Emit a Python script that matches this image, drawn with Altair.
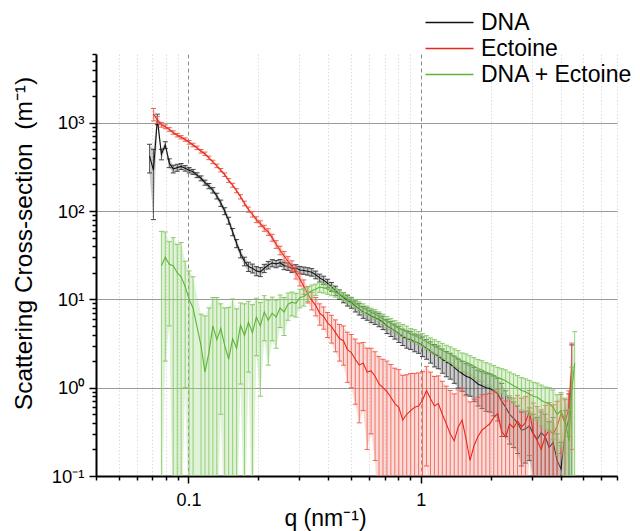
import altair as alt
import pandas as pd

# scattering vector q (nm^-1)
q = [0.068, 0.0707, 0.0735, 0.0765, 0.0795, 0.0827, 0.086, 0.0895, 0.093, 0.0968,
     0.1007, 0.1047, 0.1089, 0.1133, 0.1178, 0.1225, 0.1274, 0.1325, 0.1378, 0.1433,
     0.149, 0.155, 0.1612, 0.1676, 0.1743, 0.1813, 0.1886, 0.1961, 0.204, 0.2121,
     0.2206, 0.2294, 0.2386, 0.2481, 0.2581, 0.2684, 0.2791, 0.2903, 0.3019, 0.314,
     0.3266, 0.3396, 0.3532, 0.3673, 0.382, 0.3973, 0.4132, 0.4297, 0.4469, 0.4648,
     0.4834, 0.5027, 0.5228, 0.5437, 0.5655, 0.5881, 0.6116, 0.6361, 0.6615, 0.688,
     0.7155, 0.7441, 0.7739, 0.8049, 0.8371, 0.8705, 0.9054, 0.9416, 0.9792, 1.018,
     1.059, 1.102, 1.146, 1.191, 1.239, 1.289, 1.34, 1.394, 1.45, 1.508,
     1.568, 1.631, 1.696, 1.764, 1.834, 1.908, 1.984, 2.063, 2.146, 2.232,
     2.321, 2.414, 2.51, 2.611, 2.715, 2.824, 2.937, 3.054, 3.176, 3.303,
     3.435, 3.573, 3.716, 3.864, 4.019, 4.18, 4.347, 4.47, 4.6]

dna = [420, 290, 1100, 440, 560, 350, 300, 310, 320, 305,
       290, 278, 255, 235, 210, 192, 172, 148, 123, 100,
       78, 58, 43, 33, 27, 23.5, 22.5, 21, 20.5, 22.5,
       24.5, 25.8, 25.2, 26, 24, 23.5, 22.3, 22.6, 21.5, 21.2,
       20.8, 20.3, 19, 17.5, 16.5, 15.2, 13.9, 12.6, 11.4, 10.5,
       9.7, 9.2, 8.4, 7.8, 7.2, 6.9, 6.5, 6.2, 5.9, 5.5,
       5.0, 4.7, 4.4, 4.1, 3.8, 3.6, 3.5, 3.3, 3.2, 3.0,
       2.8, 2.6, 2.4, 2.3, 2.1, 1.95, 1.85, 1.7, 1.55, 1.45,
       1.35, 1.3, 1.2, 1.1, 1.05, 1.0, 0.98, 0.92, 0.85, 0.7,
       0.6, 0.5, 0.45, 0.4, 0.33, 0.34, 0.37, 0.3, 0.26, 0.31,
       0.28, 0.21, 0.24, 0.15, 0.12, 0.3, 0.45, 1.55, None]
dna_err = [150, 210, 150, 60, 50, 40, 30, 28, 25, 22,
           20, 18, 16, 15, 14, 13, 12, 11, 10, 9,
           7, 5.5, 4.5, 3.5, 3, 2.8, 2.6, 2.5, 2.4, 2.4,
           2.4, 2.4, 2.4, 2.3, 2.3, 2.2, 2.2, 2.1, 2.1, 2.0,
           2.0, 2.0, 1.9, 1.8, 1.8, 1.7, 1.6, 1.5, 1.4, 1.35,
           1.3, 1.25, 1.2, 1.15, 1.1, 1.1, 1.05, 1.0, 1.0, 0.95,
           0.9, 0.9, 0.85, 0.85, 0.8, 0.8, 0.8, 0.75, 0.75, 0.75,
           0.7, 0.7, 0.68, 0.66, 0.64, 0.62, 0.6, 0.58, 0.56, 0.54,
           0.52, 0.5, 0.5, 0.48, 0.47, 0.46, 0.45, 0.44, 0.43, 0.42,
           0.32, 0.27, 0.24, 0.22, 0.2, 0.2, 0.22, 0.2, 0.2, 0.22,
           0.22, 0.2, 0.22, 0.15, 0.12, 0.25, 0.4, 1.5, None]

ectoine = [None, 1250, 1080, 950, 900, 840, 775, 722, 685, 645,
           600, 560, 520, 475, 445, 400, 360, 325, 290, 258,
           222, 196, 170, 145, 122, 104, 92, 80, 72, 64,
           58, 50, 42, 36, 31, 27, 24, 20, 17, 14,
           11.5, 9.8, 8.5, 7.0, 6.4, 5.4, 4.9, 4.2, 3.6, 3.4,
           2.7, 2.5, 2.1, 1.8, 1.9, 1.5, 1.55, 1.35, 1.1, 1.0,
           0.9, 0.78, 0.66, 0.6, 0.43, 0.5, 0.55, 0.6, 0.62, 0.72,
           0.93, 0.75, 0.62, 0.66, 0.5, 0.39, 0.3, 0.25, 0.36, 0.43,
           0.26, 0.15, 0.22, 0.28, 0.33, 0.36, 0.39, 0.46, 0.51, 0.32,
           0.275, 0.39, 0.35, 0.42, 0.36, 0.4, 0.55, 0.3, 0.25, 0.2,
           0.28, 0.33, 0.3, 0.36, 0.51, 0.4, 0.6, 1.7, None]
ectoine_err = [None, 200, 100, 60, 45, 40, 35, 32, 30, 28,
               28, 26, 24, 22, 20, 18, 16, 15, 13, 12,
               11, 10, 9, 8, 7.5, 7, 6.5, 6, 5.5, 5,
               5, 4.5, 4.2, 4, 3.8, 3.5, 3.3, 3, 2.8, 2.6,
               2.4, 2.2, 2.0, 1.9, 1.8, 1.7, 1.7, 1.65, 1.6, 1.6,
               1.55, 1.5, 1.45, 1.4, 1.35, 1.3, 1.25, 1.2, 1.15, 1.1,
               1.1, 1.05, 1.0, 1.0, 0.95, 0.9, 0.9, 0.85, 0.85, 0.8,
               0.8, 0.75, 0.72, 0.7, 0.68, 0.65, 0.63, 0.6, 0.58, 0.56,
               0.55, 0.54, 0.52, 0.5, 0.5, 0.48, 0.47, 0.46, 0.45, 0.44,
               0.43, 0.42, 0.41, 0.4, 0.4, 0.39, 0.38, 0.37, 0.36, 0.36,
               0.35, 0.35, 0.34, 0.34, 0.33, 0.33, 0.32, 1.5, None]

mix = [None, None, None, 24, 30, 25, 24, 20, 18, 14,
       10, 8, None, 3, 1.5, 2.5, 5, 3.5, 4.7, 3.0,
       2.1, 3.6, 2.8, 5.1, 3.9, 5.5, 4.2, 6.3, 5.0, 7.2,
       5.8, 7.0, 6.3, 8.0, 7.2, 8.8, 9.3, 9.0, 10.5, 10.8,
       11.7, 12.5, 13.0, 13.8, 13.5, 13.0, 12.5, 12.0, 11.5, 10.8,
       10.2, 9.6, 9.0, 8.4, 8.0, 7.5, 7.1, 6.8, 6.4, 6.0,
       5.6, 5.3, 5.0, 4.7, 4.5, 4.3, 4.0, 3.9, 3.7, 3.5,
       3.3, 3.1, 2.95, 2.8, 2.65, 2.5, 2.4, 2.25, 2.15, 2.0,
       1.95, 1.85, 1.75, 1.65, 1.6, 1.5, 1.45, 1.38, 1.3, 1.25,
       1.2, 1.12, 1.05, 1.0, 0.93, 0.9, 0.85, 0.8, 0.78, 0.72,
       0.68, 0.66, 0.6, 0.5, 0.55, 0.43, 0.25, 0.9, 1.9]
mix_err = [None, None, None, 35, 28, 20, 26, 22, 26, 13,
           11, 10, None, 3.8, 5, 5.5, 5.5, 7, 4.2, 5,
           6, 6.5, 5, 4, 5, 4, 4.5, 4, 4.2, 3.8,
           4, 3.6, 3.5, 3.2, 3.3, 3, 2.8, 2.7, 2.5, 2.4,
           2.2, 2, 1.9, 1.8, 1.7, 1.6, 1.5, 1.4, 1.3, 1.2,
           1.1, 1.0, 1.0, 0.95, 0.9, 0.9, 0.85, 0.85, 0.8, 0.8,
           0.78, 0.76, 0.74, 0.72, 0.7, 0.68, 0.66, 0.64, 0.62, 0.6,
           0.58, 0.56, 0.55, 0.54, 0.53, 0.52, 0.5, 0.5, 0.48, 0.47,
           0.46, 0.45, 0.44, 0.43, 0.42, 0.42, 0.41, 0.4, 0.4, 0.39,
           0.39, 0.38, 0.38, 0.37, 0.37, 0.36, 0.36, 0.35, 0.35, 0.35,
           0.34, 0.34, 0.34, 0.33, 0.33, 0.33, 0.32, 0.8, 2.4]

series_names = ["DNA", "Ectoine", "DNA + Ectoine"]
series_vals = [dna, ectoine, mix]
series_errs = [dna_err, ectoine_err, mix_err]
line_colors = ["#111111", "#e8281e", "#5cb536"]
bar_colors = ["#333333", "#ee5245", "#7cc45a"]
band_colors = ["#6e6e6e", "#f3978c", "#a5d98b"]

x_ticks = [0.04, 0.05, 0.06, 0.07, 0.08, 0.09, 0.1, 0.2, 0.3, 0.4, 0.5, 0.6, 0.7,
           0.8, 0.9, 1, 2, 3, 4, 5, 6, 7]
y_ticks = [0.1, 0.2, 0.3, 0.4, 0.5, 0.6, 0.7, 0.8, 0.9,
           1, 2, 3, 4, 5, 6, 7, 8, 9,
           10, 20, 30, 40, 50, 60, 70, 80, 90,
           100, 200, 300, 400, 500, 600, 700, 800, 900,
           1000, 2000, 3000, 4000, 5000, 6000]

major_x = "datum.value == 0.1 || datum.value == 1"
major_y = ("datum.value == 0.1 || datum.value == 1 || datum.value == 10 || "
           "datum.value == 100 || datum.value == 1000")

x_axis = alt.Axis(
    values=x_ticks,
    labelExpr="datum.value == 0.1 ? '0.1' : (datum.value == 1 ? '1' : '')",
    title="q (nm\u207b\u00b9)",
    titleFontSize=23, titleFontWeight="normal", titleColor="black",
    titleX=229, titleY=49, titleBaseline="alphabetic",
    labelFontSize=18, labelColor="black", labelPadding=8, labelFlush=False,
    labelOverlap=False,
    domainColor="black", domainWidth=2,
    tickColor="black", tickWidth=1.5,
    tickSize={"condition": {"test": major_x, "value": 7}, "value": 4},
    grid=True,
    gridColor={"condition": {"test": major_x, "value": "#8a8a8a"}, "value": "#dcdcdc"},
    gridDash={"condition": {"test": major_x, "value": [4, 3]}, "value": [1.5, 2]},
    gridWidth=1,
)

y_axis = alt.Axis(
    values=y_ticks,
    labelExpr=("datum.value == 1000 ? '10\u00b3' : datum.value == 100 ? '10\u00b2' : "
               "datum.value == 10 ? '10\u00b9' : datum.value == 1 ? '10\u2070' : "
               "datum.value == 0.1 ? '10\u207b\u00b9' : ''"),
    title="Scattering Cross-section\u00a0\u00a0(m\u207b\u00b9)",
    titleFontSize=24.5, titleFontWeight="normal", titleColor="black",
    titleX=-60, titleY=189,
    labelFontSize=18.5, labelColor="black", labelPadding=5, labelFlush=False,
    labelOverlap=False,
    domainColor="black", domainWidth=2,
    tickColor="black", tickWidth=1.5,
    tickSize={"condition": {"test": major_y, "value": 7}, "value": 4},
    grid=True,
    gridColor="#9a9a9a", gridWidth=1.2,
    gridOpacity={"condition": {"test": major_y, "value": 1}, "value": 0},
)

x_scale = alt.Scale(type="log", domain=[0.04, 7], nice=False)
y_scale = alt.Scale(type="log", domain=[0.1, 6000], nice=False)

legend = alt.Legend(
    orient="none", legendX=342, legendY=-43, title=None,
    symbolType="M-3,0H3", symbolSize=256, symbolStrokeWidth=1.5,
    symbolFillColor="transparent",
    labelFontSize=23, labelColor="black", labelOffset=20,
    rowPadding=2, padding=0,
)
color = alt.Color("series:N",
                  scale=alt.Scale(domain=series_names, range=line_colors),
                  legend=legend)

layers = []
for name, vals, errs, lc, bc, fc in zip(series_names, series_vals, series_errs,
                                        line_colors, bar_colors, band_colors):
    rows = []
    for qi, v, e in zip(q, vals, errs):
        if v is None:
            continue
        rows.append({"q": qi, "v": v, "lo": max(v - e, 0.02), "hi": v + e, "series": name})
    df = pd.DataFrame(rows)
    base = alt.Chart(df)
    X = alt.X("q:Q", scale=x_scale, axis=x_axis)
    band = base.mark_area(color=fc, opacity=0.35, clip=True).encode(
        x=X, y=alt.Y("lo:Q", scale=y_scale, axis=y_axis), y2="hi:Q")
    rule = base.mark_rule(color=bc, strokeWidth=0.9, opacity=0.85, clip=True).encode(
        x=X, y=alt.Y("lo:Q", scale=y_scale, axis=y_axis), y2="hi:Q")
    cap_hi = base.mark_tick(orient="horizontal", size=5, thickness=1, color=bc,
                            opacity=0.9, clip=True).encode(
        x=X, y=alt.Y("hi:Q", scale=y_scale, axis=y_axis))
    cap_lo = base.mark_tick(orient="horizontal", size=5, thickness=1, color=bc,
                            opacity=0.9, clip=True).encode(
        x=X, y=alt.Y("lo:Q", scale=y_scale, axis=y_axis))
    line = base.mark_line(strokeWidth=1.1, clip=True).encode(
        x=X, y=alt.Y("v:Q", scale=y_scale, axis=y_axis), color=color)
    layers += [band, rule, cap_hi, cap_lo, line]

chart = alt.layer(*layers).properties(
    width=521, height=422,
    autosize=alt.AutoSizeParams(type="none"),
    padding={"left": 88, "top": 46, "right": 15, "bottom": 55},
).configure(font="Liberation Sans").configure_view(stroke=None)

chart.save("out.html", embed_options={"renderer": "svg", "actions": False})
